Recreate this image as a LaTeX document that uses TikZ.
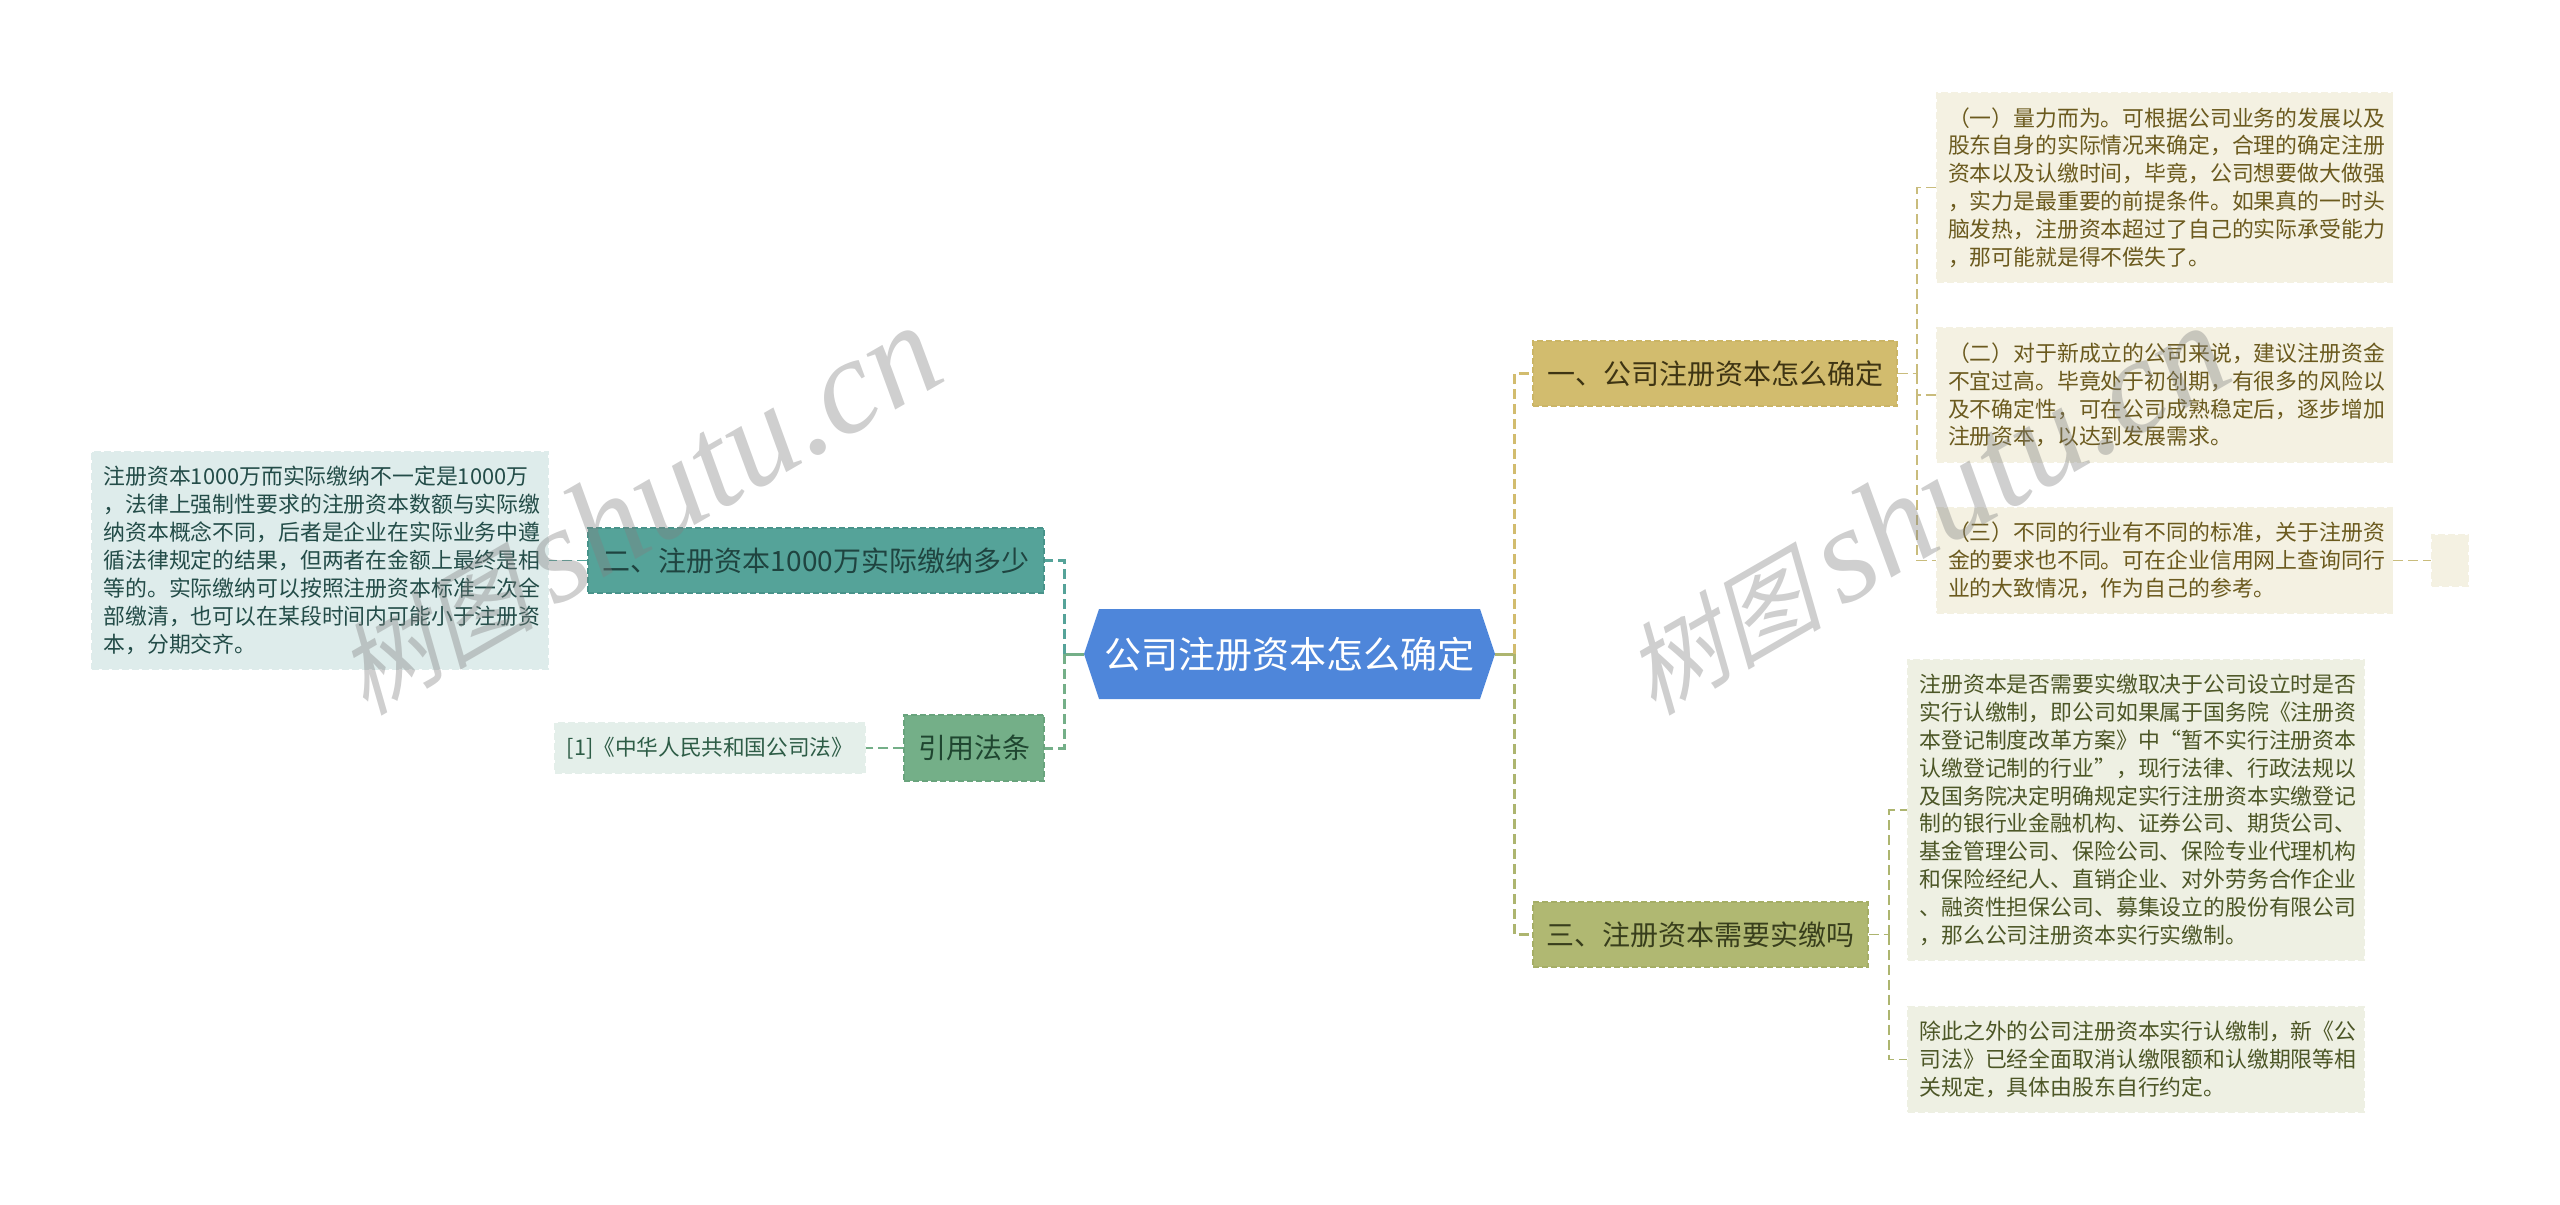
\documentclass[tikz,border=0pt]{standalone}
\usepackage{fontspec}
\setmainfont{Noto Sans CJK SC}
\newfontfamily\wmcjk[FakeSlant=0.25]{Noto Sans CJK SC}
\newfontfamily\wmlat{Liberation Serif}[ItalicFont=* Italic]
\usetikzlibrary{calc}
\definecolor{hexblue}{HTML}{4E86DA}
\definecolor{goldF}{HTML}{D2BC6E}\definecolor{goldD}{HTML}{CBB566}\definecolor{goldL}{HTML}{C9BC7C}
\definecolor{oliveF}{HTML}{B0B872}\definecolor{oliveD}{HTML}{A5AE66}\definecolor{oliveL}{HTML}{ADB56F}
\definecolor{tealF}{HTML}{55A399}\definecolor{tealD}{HTML}{48938A}
\definecolor{greenF}{HTML}{74AF88}\definecolor{greenD}{HTML}{69A47D}
\definecolor{leafA}{HTML}{F4F1E2}\definecolor{leafB}{HTML}{EEF0E3}\definecolor{leafC}{HTML}{DEECEB}\definecolor{leafD}{HTML}{E4EFEA}
\definecolor{txtA}{HTML}{6B5A1E}\definecolor{txtB}{HTML}{4C5626}\definecolor{txtC}{HTML}{234C48}\definecolor{txtD}{HTML}{2D5C46}
\definecolor{brA}{HTML}{3E3413}\definecolor{brB}{HTML}{383E1C}\definecolor{brC}{HTML}{1F4440}\definecolor{brD}{HTML}{1F4630}
\tikzset{
  x=1pt,y=-1pt,
  branch/.style={rectangle,inner sep=0pt,minimum height=65pt,line width=1.4pt,dash pattern=on 6pt off 3pt,font=\fontsize{28}{34}\selectfont},
  leaf/.style={rectangle,inner ysep=0pt,inner xsep=11.5pt,text width=433pt,align=left,line width=1.6pt,dash pattern=on 7pt off 3pt,font=\fontsize{21.85}{27.8}\selectfont},
  mainlink/.style={line width=3pt,dash pattern=on 10pt off 5pt},
  sublink/.style={line width=1.8pt,dash pattern=on 10pt off 5pt},
  mark text/.style={text=gray,text opacity=0.38,rotate=30,inner sep=0pt},
}
\begin{document}
\begin{tikzpicture}
\useasboundingbox (0,0) rectangle (2560,1205);
% central node
\node[rectangle,inner sep=0pt,minimum width=411pt,minimum height=90pt,text=white,font=\fontsize{37}{44}\selectfont,
  path picture={\fill[hexblue] ($(path picture bounding box.north west)+(15,0)$) -- ($(path picture bounding box.north east)+(-15,0)$) -- (path picture bounding box.east) -- ($(path picture bounding box.south east)+(-15,0)$) -- ($(path picture bounding box.south west)+(15,0)$) -- (path picture bounding box.west) -- cycle;}]
  (hub) at (1289.5,654) {公司注册资本怎么确定};
% branches
\node[branch,fill=goldF,draw=goldD,text=brA,minimum width=364pt] (b1) at (1715,373.5) {一、公司注册资本怎么确定};
\node[branch,fill=oliveF,draw=oliveD,text=brB,minimum width=335pt] (b3) at (1700.5,934.5) {三、注册资本需要实缴吗};
\node[branch,fill=tealF,draw=tealD,text=brC,minimum width=456pt] (b2) at (816,560.5) {二、注册资本1000万实际缴纳多少};
\node[branch,fill=greenF,draw=greenD,text=brD,minimum width=140pt,minimum height=66pt] (b4) at (974,748) {引用法条};
% leaves
\node[leaf,fill=leafA,draw=leafA,text=txtA,minimum height=189pt] (a1) at (2164.5,187.5) {（一）量力而为。可根据公司业务的发展以及\\股东自身的实际情况来确定，合理的确定注册\\资本以及认缴时间，毕竟，公司想要做大做强\\，实力是最重要的前提条件。如果真的一时头\\脑发热，注册资本超过了自己的实际承受能力\\，那可能就是得不偿失了。};
\node[leaf,fill=leafA,draw=leafA,text=txtA,minimum height=134pt] (a2) at (2164.5,395) {（二）对于新成立的公司来说，建议注册资金\\不宜过高。毕竟处于初创期，有很多的风险以\\及不确定性，可在公司成熟稳定后，逐步增加\\注册资本，以达到发展需求。};
\node[leaf,fill=leafA,draw=leafA,text=txtA,minimum height=105pt] (a3) at (2164.5,560.5) {（三）不同的行业有不同的标准，关于注册资\\金的要求也不同。可在企业信用网上查询同行\\业的大致情况，作为自己的参考。};
\node[rectangle,inner sep=0pt,fill=leafA,draw=leafA,line width=1.6pt,dash pattern=on 7pt off 3pt,minimum width=36pt,minimum height=51pt] (a4) at (2450,560.5) {};
\node[leaf,fill=leafB,draw=leafB,text=txtB,minimum height=300pt] (c1) at (2136,810) {注册资本是否需要实缴取决于公司设立时是否\\实行认缴制，即公司如果属于国务院《注册资\\本登记制度改革方案》中“暂不实行注册资本\\认缴登记制的行业”，现行法律、行政法规以\\及国务院决定明确规定实行注册资本实缴登记\\制的银行业金融机构、证券公司、期货公司、\\基金管理公司、保险公司、保险专业代理机构\\和保险经纪人、直销企业、对外劳务合作企业\\、融资性担保公司、募集设立的股份有限公司\\，那么公司注册资本实行实缴制。};
\node[leaf,fill=leafB,draw=leafB,text=txtB,minimum height=105pt] (c2) at (2136,1059.5) {除此之外的公司注册资本实行认缴制，新《公\\司法》已经全面取消认缴限额和认缴期限等相\\关规定，具体由股东自行约定。};
\node[leaf,fill=leafC,draw=leafC,text=txtC,minimum height=217pt,font=\fontsize{21.85}{28.1}\selectfont] (d1) at (320,560.5) {注册资本1000万而实际缴纳不一定是1000万\\，法律上强制性要求的注册资本数额与实际缴\\纳资本概念不同，后者是企业在实际业务中遵\\循法律规定的结果，但两者在金额上最终是相\\等的。实际缴纳可以按照注册资本标准一次全\\部缴清，也可以在某段时间内可能小于注册资\\本，分期交齐。};
\node[rectangle,inner sep=0pt,fill=leafD,draw=leafD,text=txtD,line width=1.6pt,dash pattern=on 7pt off 3pt,minimum width=310pt,minimum height=50pt,font=\fontsize{21.65}{27.8}\selectfont] (d2) at (710,748) {[1]《中华人民共和国公司法》};
% junctions
\coordinate (rt) at (1514,654);
\coordinate (rt1) at (1514,373.5);
\coordinate (rt3) at (1514,934.5);
\coordinate (lt) at (1064,654);
\coordinate (lt2) at (1064,560.5);
\coordinate (lt4) at (1064,748);
\coordinate (at0) at (1917,373.5);
\coordinate (at1) at (1917,187.5);
\coordinate (at2) at (1917,395);
\coordinate (at3) at (1917,560.5);
\coordinate (ct0) at (1889,934.5);
\coordinate (ct1) at (1889,810);
\coordinate (ct2) at (1889,1059.5);
% connectors
\draw[oliveL,line width=3pt] (hub.east) -- (rt);
\draw[greenF,line width=3pt] (hub.west) -- (lt);
\draw[goldF,mainlink] (rt) -- (rt1) -- (b1.west);
\draw[oliveL,mainlink] (rt) -- (rt3) -- (b3.west);
\draw[tealF,mainlink] (lt) -- (lt2) -- (b2.east);
\draw[greenF,mainlink] (lt) -- (lt4) -- (b4.east);
\draw[goldL,sublink] (b1.east) -- (at0);
\draw[goldL,sublink] (at0) -- (at1) -- (a1.west);
\draw[goldL,sublink] (at0) -- (at2) -- (a2.west);
\draw[goldL,sublink] (at2) -- (at3) -- (a3.west);
\draw[goldL,sublink] (a3.east) -- (a4.west);
\draw[oliveL,sublink] (b3.east) -- (ct0);
\draw[oliveL,sublink] (ct0) -- (ct1) -- (c1.west);
\draw[oliveL,sublink] (ct0) -- (ct2) -- (c2.west);
\draw[tealF,sublink] (b2.west) -- (d1.east);
\draw[greenF,sublink] (b4.west) -- (d2.east);
% watermarks
\node[mark text] (w1) at (636,510) {\fontsize{100}{130}\selectfont\wmcjk 树图\hspace{18pt}\fontsize{136}{140}\selectfont\wmlat\itshape shutu.cn};
\node[mark text] (w2) at (1924,510) {\fontsize{100}{130}\selectfont\wmcjk 树图\hspace{18pt}\fontsize{136}{140}\selectfont\wmlat\itshape shutu.cn};
\end{tikzpicture}
\end{document}
